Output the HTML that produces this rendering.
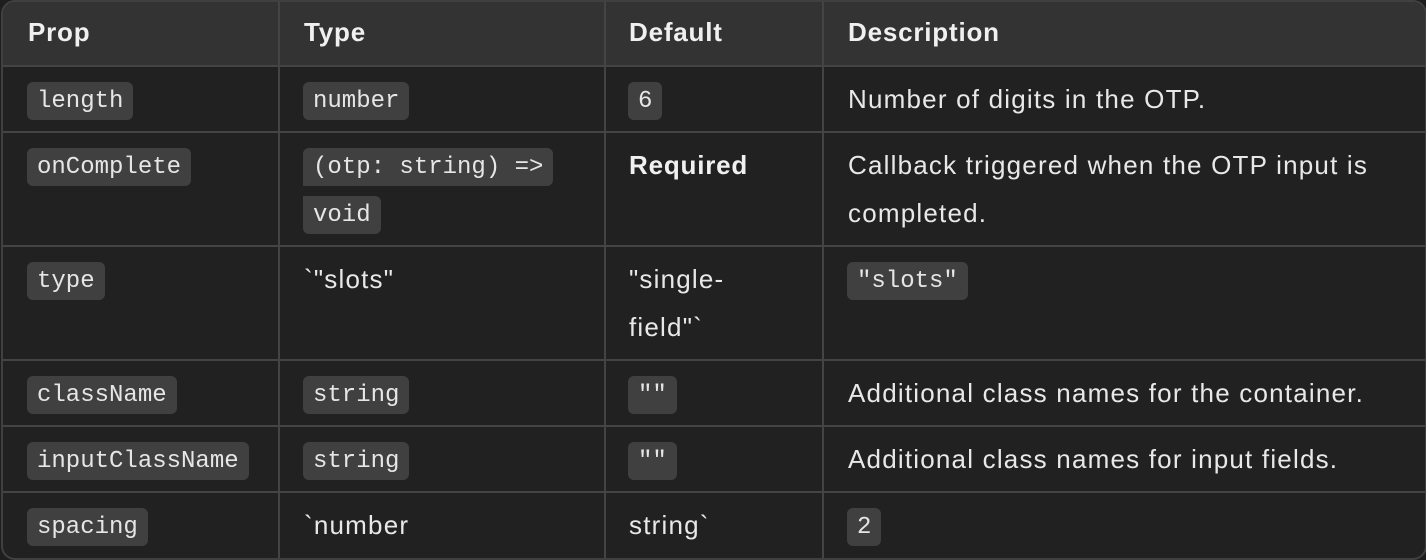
<!DOCTYPE html>
<html><head><meta charset="utf-8"><style>
html,body{margin:0;padding:0;background:#1e1e1e;width:1426px;height:560px;overflow:hidden}
.t{position:absolute;left:1px;top:0;width:1422px;height:556px;border:2px solid #404040;border-radius:14px;background:#212121;overflow:hidden;box-sizing:content-box}
.h{position:absolute;left:0;top:0;width:100%;height:64px;background:#333333}
.hl{position:absolute;left:0;width:100%;height:2px;background:#444}
.vl{position:absolute;top:0;width:2px;height:100%;background:#444}
.s{position:absolute;font-family:"Liberation Sans",sans-serif;font-size:26px;letter-spacing:1.2px;color:#e8e8e8;line-height:48px;white-space:nowrap;margin-top:-2px}
.b{font-weight:bold;color:#f0f0f0;letter-spacing:0.8px}
.c{position:absolute;font-family:"Liberation Mono",monospace;font-size:24px;color:#e6e6e6;background:#404040;border-radius:6px;padding:0 10px;height:38px;line-height:40px;white-space:nowrap}
</style></head><body>
<div class="t">
<div class="h"></div>
<div class="hl" style="top:63px"></div>
<div class="hl" style="top:129px"></div>
<div class="hl" style="top:243px"></div>
<div class="hl" style="top:357px"></div>
<div class="hl" style="top:423px"></div>
<div class="hl" style="top:489px"></div>
<div class="vl" style="left:275px"></div>
<div class="vl" style="left:601px"></div>
<div class="vl" style="left:819px"></div>

<div class="s b" style="left:25px;top:8px">Prop</div>
<div class="s b" style="left:301px;top:8px">Type</div>
<div class="s b" style="left:626px;top:8px">Default</div>
<div class="s b" style="left:845px;top:8px">Description</div>

<div class="c" style="left:24px;top:80px">length</div>
<div class="c" style="left:300px;top:80px">number</div>
<div class="c" style="left:625px;top:80px">6</div>
<div class="s" style="left:845px;top:75px">Number of digits in the OTP.</div>

<div class="c" style="left:24px;top:146px">onComplete</div>
<div class="c" style="left:300px;top:146px;border-radius:6px 6px 6px 0">(otp: string) =&gt;</div>
<div class="c" style="left:300px;top:194px;border-radius:0 6px 6px 6px">void</div>
<div class="s b" style="left:626px;top:141px">Required</div>
<div class="s" style="left:845px;top:141px">Callback triggered when the OTP input is</div>
<div class="s" style="left:845px;top:189px">completed.</div>

<div class="c" style="left:24px;top:260px">type</div>
<div class="s" style="left:301px;top:255px">`"slots"</div>
<div class="s" style="left:626px;top:255px">"single-</div>
<div class="s" style="left:626px;top:303px">field"`</div>
<div class="c" style="left:844px;top:260px">"slots"</div>

<div class="c" style="left:24px;top:374px">className</div>
<div class="c" style="left:300px;top:374px">string</div>
<div class="c" style="left:625px;top:374px">""</div>
<div class="s" style="left:845px;top:369px">Additional class names for the container.</div>

<div class="c" style="left:24px;top:440px">inputClassName</div>
<div class="c" style="left:300px;top:440px">string</div>
<div class="c" style="left:625px;top:440px">""</div>
<div class="s" style="left:845px;top:435px">Additional class names for input fields.</div>

<div class="c" style="left:24px;top:506px">spacing</div>
<div class="s" style="left:301px;top:501px">`number</div>
<div class="s" style="left:626px;top:501px">string`</div>
<div class="c" style="left:844px;top:506px">2</div>
</div>
</body></html>
